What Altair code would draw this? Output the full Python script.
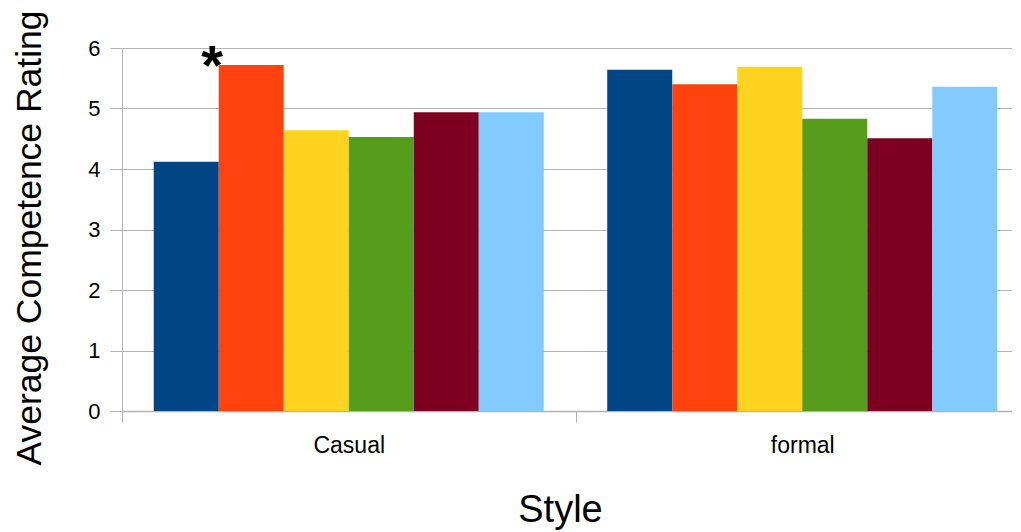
import altair as alt
import pandas as pd

styles = ["Casual", "formal"]
series = ["Group 1", "Group 2", "Group 3", "Group 4", "Group 5", "Group 6"]
casual_values = [4.12, 5.72, 4.64, 4.53, 4.94, 4.94]
formal_values = [5.64, 5.40, 5.69, 4.83, 4.51, 5.36]
colors = ["#004586", "#ff420e", "#ffd320", "#579d1c", "#7e0021", "#83caff"]
y_ticks = [0, 1, 2, 3, 4, 5, 6]

annot_style = ["Casual"]
annot_series = ["Group 2"]
annot_text = ["*"]

rows = []
for s, v in zip(series, casual_values):
    rows.append({"Style": "Casual", "Series": s, "Rating": v})
for s, v in zip(series, formal_values):
    rows.append({"Style": "formal", "Series": s, "Rating": v})
df = pd.DataFrame(rows)

ann = pd.DataFrame({
    "Style": annot_style,
    "Series": annot_series,
    "Rating": [casual_values[series.index(annot_series[0])]],
    "label": annot_text,
})

FONT = "Liberation Sans"
GRAY = "#b3b3b3"

x_enc = alt.X(
    "Style:N", sort=styles,
    scale=alt.Scale(range=[0, 907], paddingInner=0, paddingOuter=0),
    axis=alt.Axis(
        title="Style", tickBand="extent", labelAngle=0, grid=False,
        domainColor=GRAY, domainWidth=1.5, tickColor=GRAY, tickSize=11,
        labelFont=FONT, labelFontSize=23, labelColor="black",
        labelBaseline="alphabetic", labelPadding=30.5,
        titleFont=FONT, titleFontSize=38, titleFontWeight="normal",
        titleColor="black", titleX=438, titleY=110.5,
        titleAlign="center", titleBaseline="alphabetic",
    ),
)
xoff_enc = alt.XOffset("Series:N", sort=series,
                       scale=alt.Scale(paddingInner=0, paddingOuter=0.488))
y_enc = alt.Y(
    "Rating:Q",
    scale=alt.Scale(domain=[0, 6], nice=False, zero=True),
    axis=alt.Axis(
        values=y_ticks, format="d", title="Average Competence Rating", grid=True,
        gridColor=GRAY, gridWidth=1, domainColor=GRAY, domainWidth=1,
        tickColor=GRAY, tickSize=12, labelPadding=10,
        labelFont=FONT, labelFontSize=22, labelColor="black",
        titleFont=FONT, titleFontSize=35.5, titleFontWeight="normal",
        titleColor="black", titleX=-82, titleY=189.5, titleAngle=270,
        titleAlign="center", titleBaseline="alphabetic",
    ),
)

bars = alt.Chart(df).mark_bar(size=65).encode(
    x=x_enc,
    xOffset=xoff_enc,
    y=y_enc,
    color=alt.Color("Series:N", sort=series,
                    scale=alt.Scale(domain=series, range=colors), legend=None),
)

stars = alt.Chart(ann).mark_text(
    font=FONT, fontSize=56, fontWeight="bold", color="black",
    baseline="alphabetic", align="center", dx=-39, dy=19,
).encode(
    x=alt.X("Style:N", sort=styles),
    xOffset=alt.XOffset("Series:N", sort=series),
    y=alt.Y("Rating:Q"),
    text="label:N",
)

chart = alt.layer(bars, stars).properties(
    width=890, height=363,
    padding={"left": 114, "top": 40, "right": 0, "bottom": 121},
    autosize=alt.AutoSizeParams(type="none"),
).configure_view(stroke=None).configure(background="white")

chart.save("out.html", embed_options={"renderer": "svg", "actions": False})
